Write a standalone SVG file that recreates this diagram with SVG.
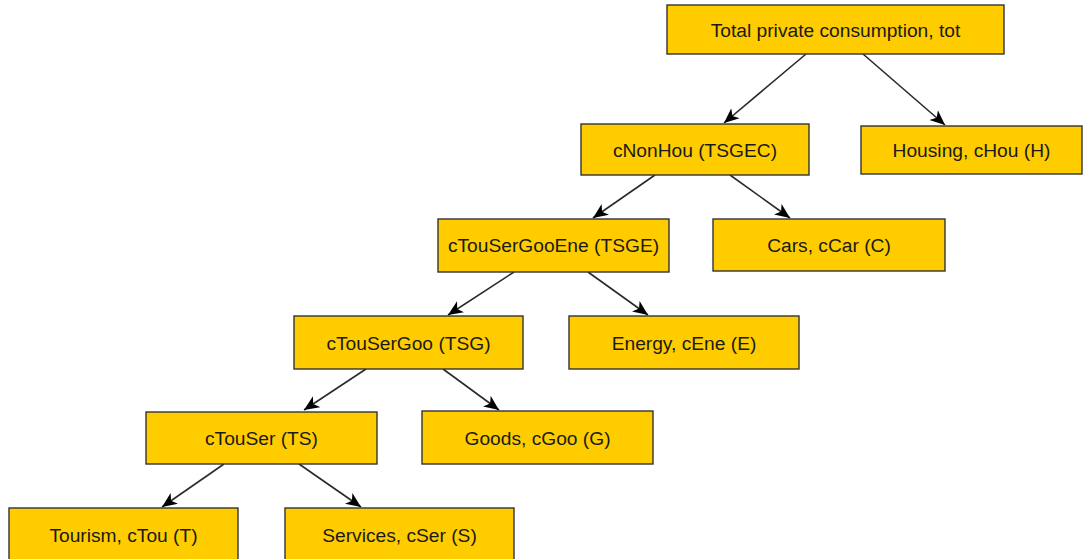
<svg xmlns="http://www.w3.org/2000/svg" width="1083" height="559" viewBox="0 0 1083 559">
<style>
.n rect{fill:#FFCC00;stroke:#333333;stroke-width:1.4}
.n text{font-family:"Liberation Sans",Arial,sans-serif;font-size:19.2px;fill:#1a1a1a;text-anchor:middle}
.e line{stroke:#2a2a2a;stroke-width:1.6;marker-end:url(#arr)}
</style>
<defs>
<marker id="arr" markerUnits="userSpaceOnUse" markerWidth="16" markerHeight="14" refX="15" refY="7" orient="auto" viewBox="0 0 16 14">
<path d="M0,0.5 L15,7 L0,13.5 L4,7 z" fill="#000"/>
</marker>
</defs>
<rect width="1083" height="559" fill="#fff"/>
<g id="edges" class="e">
<line x1="806" y1="54" x2="724" y2="123"/>
<line x1="863" y1="54" x2="945" y2="125"/>
<line x1="655" y1="175" x2="593" y2="218"/>
<line x1="730" y1="175" x2="790" y2="218"/>
<line x1="514" y1="272" x2="448" y2="315"/>
<line x1="588" y1="272" x2="648" y2="315"/>
<line x1="366" y1="369" x2="304" y2="410"/>
<line x1="443" y1="369" x2="499" y2="410"/>
<line x1="224" y1="464" x2="162" y2="507"/>
<line x1="299" y1="464" x2="361" y2="507"/>
</g>
<g id="tot" class="n"><rect x="667" y="5" width="337" height="49"/><text x="835.5" y="36.5">Total private consumption, tot</text></g>
<g id="cNonHou" class="n"><rect x="581" y="124" width="228" height="51"/><text x="695" y="156.5">cNonHou (TSGEC)</text></g>
<g id="cHou" class="n"><rect x="861" y="126" width="221" height="48"/><text x="971.5" y="157">Housing, cHou (H)</text></g>
<g id="cTouSerGooEne" class="n"><rect x="438" y="219" width="231" height="53"/><text x="553.5" y="252">cTouSerGooEne (TSGE)</text></g>
<g id="cCar" class="n"><rect x="713" y="219" width="232" height="52"/><text x="829" y="252">Cars, cCar (C)</text></g>
<g id="cTouSerGoo" class="n"><rect x="294" y="316" width="229" height="53"/><text x="408.5" y="349.5">cTouSerGoo (TSG)</text></g>
<g id="cEne" class="n"><rect x="569" y="316" width="230" height="53"/><text x="684" y="349.5">Energy, cEne (E)</text></g>
<g id="cTouSer" class="n"><rect x="146" y="412" width="231" height="52"/><text x="261.5" y="445">cTouSer (TS)</text></g>
<g id="cGoo" class="n"><rect x="422" y="411" width="231" height="53"/><text x="537.5" y="444.5">Goods, cGoo (G)</text></g>
<g id="cTou" class="n"><rect x="9" y="508" width="229" height="53"/><text x="123.5" y="541.5">Tourism, cTou (T)</text></g>
<g id="cSer" class="n"><rect x="285" y="508" width="229" height="53"/><text x="399.5" y="541.5">Services, cSer (S)</text></g>
</svg>
